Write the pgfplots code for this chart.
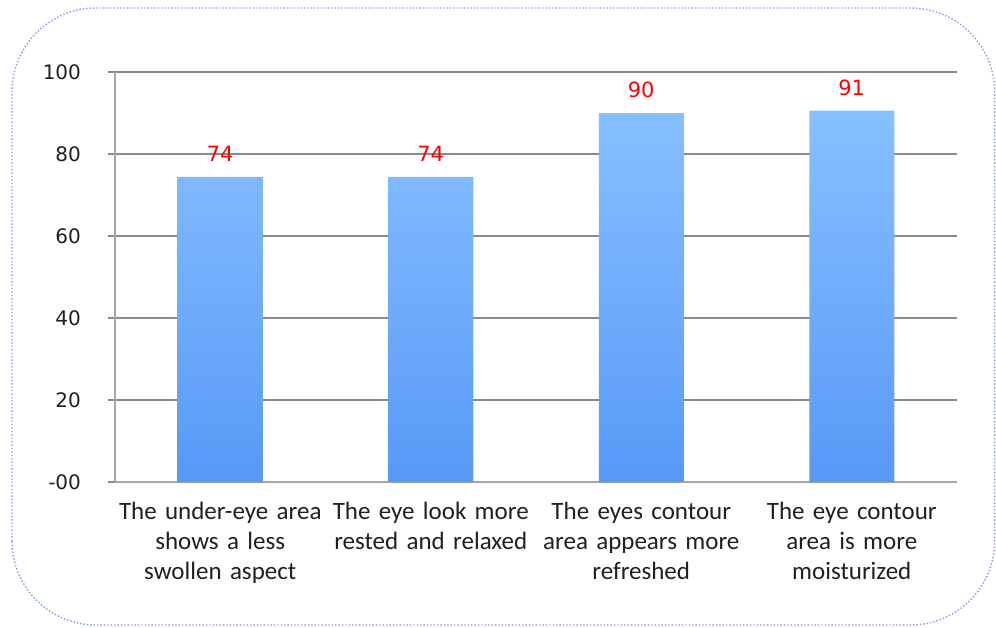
\documentclass[border=0pt]{standalone}
\usepackage{pgfplots}
\pgfplotsset{compat=1.18}
\usepackage{fontspec}
\setmainfont{Carlito}
\newfontfamily\dejavu{DejaVu Sans}
\definecolor{bartop}{HTML}{87C0FF}
\definecolor{barbot}{HTML}{5899F7}
\definecolor{gridc}{HTML}{8A8A8A}
\definecolor{axc}{HTML}{A6A6A6}
\definecolor{bordc}{HTML}{7F9CF0}
\definecolor{txt}{HTML}{202020}
\begin{document}
\begin{tikzpicture}[x=1pt,y=1pt]
\path[use as bounding box] (0,0) rectangle (498,313.5);
\draw[bordc, densely dotted, line width=0.7pt, rounded corners=42pt] (6,1) rectangle (497.3,309.5);
\begin{axis}[
  at={(57.5pt,72.5pt)}, anchor=south west,
  scale only axis, width=421pt, height=205pt,
  xmin=-0.5, xmax=3.5, ymin=0, ymax=100,
  axis x line*=bottom, axis y line*=left,
  axis line style={axc, line width=0.6pt, -},
  ytick={0,20,40,60,80,100},
  yticklabels={-00,20,40,60,80,100},
  ymajorgrids, grid style={gridc, line width=0.6pt},
  major tick length=3.5pt,
  tick align=outside,
  ytick style={gridc, line width=0.6pt},
  xtick={0,1,2,3},
  xticklabels={{The under-eye area\\shows a less\\swollen aspect},{The eye look more\\rested and relaxed},{The eyes contour\\area appears more\\refreshed},{The eye contour\\area is more\\moisturized}},
  x tick label style={align=center, text width=110pt, font=\fontsize{12.5}{15}\selectfont, text=txt, yshift=-3pt},
  xtick style={draw=none},
  minor xtick={-0.5,0.5,1.5,2.5,3.5},
  minor tick length=4pt,
  minor x tick style={axc, line width=0.6pt},
  yticklabel style={font=\dejavu\fontsize{10}{12}\selectfont, text=txt, xshift=-10pt},
  /pgf/number format/assume math mode=true,
  point meta=explicit symbolic,
  nodes near coords,
  nodes near coords style={font=\dejavu\fontsize{10.5}{12}\selectfont, text=red, yshift=4pt},
  clip=false,
]
\addplot[ybar, bar width=42.5pt, draw=none, top color=bartop, bottom color=barbot]
  coordinates {(0,74.4)[74] (1,74.4)[74] (2,90)[90] (3,90.6)[91]};
\end{axis}
\end{tikzpicture}
\end{document}
